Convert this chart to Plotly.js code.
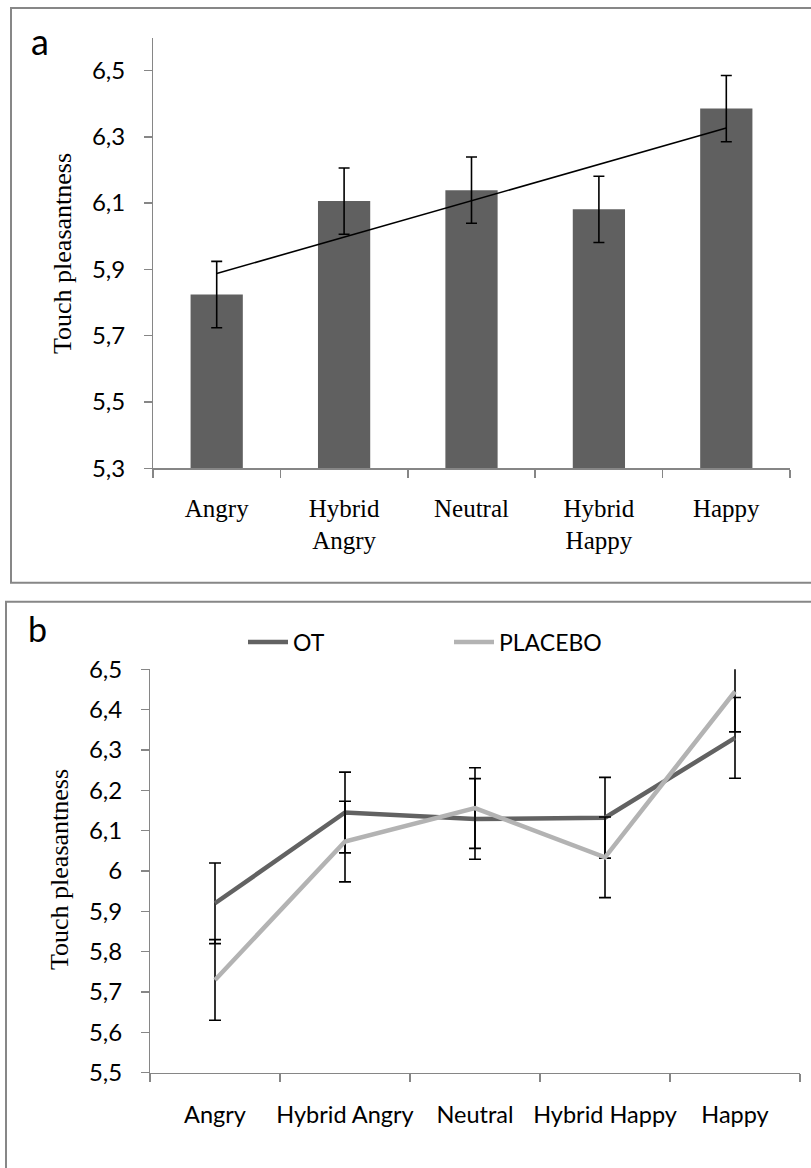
<!DOCTYPE html>
<html>
<head>
<meta charset="utf-8">
<script src="https://cdn.plot.ly/plotly-3.0.1.min.js"></script>
<style>html,body{margin:0;padding:0;background:#fff;}#chart{width:811px;height:1168px;}</style>
</head>
<body>
<div id="chart"></div>
<script>
// ---- data ----
const categoriesA = ['Angry', 'Hybrid<br>Angry', 'Neutral', 'Hybrid<br>Happy', 'Happy'];
const meanA = [5.824, 6.106, 6.139, 6.081, 6.385];
const errA = [0.1, 0.1, 0.1, 0.1, 0.1];

const categoriesB = ['Angry', 'Hybrid Angry', 'Neutral', 'Hybrid Happy', 'Happy'];
const otB = [5.920, 6.145, 6.129, 6.132, 6.330];
const otErrB = [0.1, 0.1, 0.1, 0.1, 0.1];
const placeboB = [5.730, 6.073, 6.156, 6.034, 6.445];
const placeboErrB = [0.1, 0.1, 0.1, 0.1, 0.1];

const yTickValsA = [5.3, 5.5, 5.7, 5.9, 6.1, 6.3, 6.5];
const yTickTextA = ['5,3', '5,5', '5,7', '5,9', '6,1', '6,3', '6,5'];
const yTickValsB = [5.5, 5.6, 5.7, 5.8, 5.9, 6.0, 6.1, 6.2, 6.3, 6.4, 6.5];
const yTickTextB = ['5,5', '5,6', '5,7', '5,8', '5,9', '6', '6,1', '6,2', '6,3', '6,4', '6,5'];

// linear trend line of panel a means (least squares over category index)
function linearTrend(vals) {
  const n = vals.length;
  const xs = vals.map((_, i) => i);
  const mx = xs.reduce((a, b) => a + b, 0) / n;
  const my = vals.reduce((a, b) => a + b, 0) / n;
  let sxy = 0, sxx = 0;
  for (let i = 0; i < n; i++) { sxy += (xs[i] - mx) * (vals[i] - my); sxx += (xs[i] - mx) ** 2; }
  const slope = sxy / sxx;
  return [my + slope * (0 - mx), my + slope * (n - 1 - mx)];
}
const trendA = linearTrend(meanA);

// ---- page geometry helpers ----
const W = 811, H = 1168;
const px = v => v / W;
const py = v => 1 - v / H;

const AXIS = '#868686';
const SANS = 'Lato, "Open Sans", sans-serif';
const SERIF = '"Liberation Serif", "Times New Roman", serif';

const traces = [
  {
    type: 'bar', x: categoriesA, y: meanA, xaxis: 'x', yaxis: 'y',
    marker: {color: '#606060'}, showlegend: false, hoverinfo: 'skip',
    error_y: {type: 'data', array: errA, visible: true, color: '#000', thickness: 1.6, width: 5.5}
  },
  {
    type: 'scatter', mode: 'lines', x: [categoriesA[0], categoriesA[categoriesA.length - 1]], y: trendA,
    xaxis: 'x', yaxis: 'y', line: {color: '#000', width: 1.6}, showlegend: false, hoverinfo: 'skip'
  },
  {
    type: 'scatter', mode: 'lines', name: 'OT', x: categoriesB, y: otB, xaxis: 'x2', yaxis: 'y2',
    line: {color: '#626262', width: 4.5}, cliponaxis: true,
    error_y: {type: 'data', array: otErrB, visible: true, color: '#000', thickness: 1.6, width: 6}
  },
  {
    type: 'scatter', mode: 'lines', name: 'PLACEBO', x: categoriesB, y: placeboB, xaxis: 'x2', yaxis: 'y2',
    line: {color: '#b3b3b3', width: 4.5}, cliponaxis: true,
    error_y: {type: 'data', array: placeboErrB, visible: true, color: '#000', thickness: 1.6, width: 6}
  }
];

const layout = {
  width: W, height: H,
  margin: {l: 0, r: 0, t: 0, b: 0},
  paper_bgcolor: '#fff', plot_bgcolor: 'rgba(0,0,0,0)',
  showlegend: true,
  bargap: 0.59,
  legend: {
    orientation: 'h', x: px(243), y: py(642), xanchor: 'left', yanchor: 'middle',
    font: {family: SANS, size: 23, color: '#000'},
    itemwidth: 40,
    entrywidth: 151, entrywidthmode: 'pixels', bgcolor: 'rgba(0,0,0,0)'
  },
  xaxis: {
    domain: [px(153), px(790)], anchor: 'y', type: 'category', range: [-0.5, 4.5],
    showline: true, linecolor: AXIS, linewidth: 1.5, mirror: false,
    ticks: 'outside', tickson: 'boundaries', ticklen: 8, tickwidth: 1.5, tickcolor: AXIS,
    tickangle: 0,
    tickfont: {family: SERIF, size: 25, color: '#000'}, ticklabelstandoff: 17,
    showgrid: false, zeroline: false, fixedrange: true
  },
  yaxis: {
    domain: [py(468.3), py(38.3)], anchor: 'x', range: [5.3, 6.597],
    tickmode: 'array', tickvals: yTickValsA, ticktext: yTickTextA,
    showline: true, linecolor: AXIS, linewidth: 1.5,
    ticks: 'outside', ticklen: 7.5, tickwidth: 1.5, tickcolor: AXIS,
    tickfont: {family: SANS, size: 24, color: '#000'}, ticklabelstandoff: 14,
    showgrid: false, zeroline: false, fixedrange: true
  },
  xaxis2: {
    domain: [px(150), px(800)], anchor: 'y2', type: 'category', range: [-0.5, 4.5],
    showline: true, linecolor: AXIS, linewidth: 1.5,
    ticks: 'outside', tickson: 'boundaries', ticklen: 8, tickwidth: 1.5, tickcolor: AXIS,
    tickangle: 0,
    tickfont: {family: SANS, size: 23.5, color: '#000'}, ticklabelstandoff: 21,
    showgrid: false, zeroline: false, fixedrange: true
  },
  yaxis2: {
    domain: [py(1072.7), py(669.3)], anchor: 'x2', range: [5.5, 6.5],
    tickmode: 'array', tickvals: yTickValsB, ticktext: yTickTextB,
    showline: true, linecolor: AXIS, linewidth: 1.5,
    ticks: 'outside', ticklen: 7.5, tickwidth: 1.5, tickcolor: AXIS,
    tickfont: {family: SANS, size: 24, color: '#000'}, ticklabelstandoff: 14,
    showgrid: false, zeroline: false, fixedrange: true
  },
  shapes: [
    {type: 'rect', xref: 'paper', yref: 'paper', x0: px(11), x1: px(816), y0: py(582.7), y1: py(8),
     line: {color: '#878787', width: 2}, fillcolor: 'rgba(0,0,0,0)', layer: 'below'},
    {type: 'rect', xref: 'paper', yref: 'paper', x0: px(6), x1: px(816), y0: py(1175), y1: py(601.7),
     line: {color: '#878787', width: 2}, fillcolor: 'rgba(0,0,0,0)', layer: 'below'}
  ],
  annotations: [
    {text: 'a', xref: 'paper', yref: 'paper', x: px(40), y: py(41), xanchor: 'center', yanchor: 'middle',
     showarrow: false, font: {family: SANS, size: 36, color: '#000'}},
    {text: 'b', xref: 'paper', yref: 'paper', x: px(37), y: py(628), xanchor: 'center', yanchor: 'middle',
     showarrow: false, font: {family: SANS, size: 34, color: '#000'}},
    {text: 'Touch pleasantness', xref: 'paper', yref: 'paper', x: px(62), y: py(254), textangle: -90,
     xanchor: 'center', yanchor: 'middle', showarrow: false, font: {family: SERIF, size: 26, color: '#000'}},
    {text: 'Touch pleasantness', xref: 'paper', yref: 'paper', x: px(59), y: py(870), textangle: -90,
     xanchor: 'center', yanchor: 'middle', showarrow: false, font: {family: SERIF, size: 26, color: '#000'}}
  ]
};

Plotly.newPlot('chart', traces, layout, {displayModeBar: false, staticPlot: true});
</script>
</body>
</html>
